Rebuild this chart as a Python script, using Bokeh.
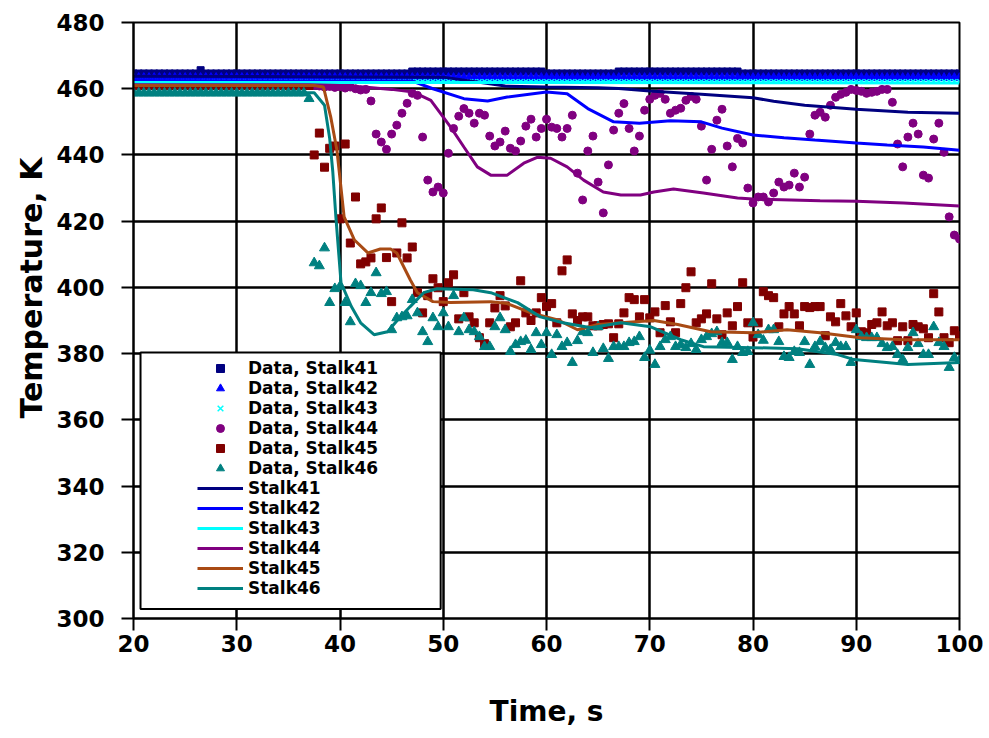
import numpy as np
from bokeh.plotting import figure
from bokeh.models import Legend, LegendItem, BoxAnnotation, FixedTicker, Range1d, Title
from bokeh.embed import file_html
from bokeh.resources import INLINE

# ---------------- data ----------------
x_ticks = [20, 30, 40, 50, 60, 70, 80, 90, 100]
y_ticks = [300, 320, 340, 360, 380, 400, 420, 440, 460, 480]

# measurement sample times (0.5 s)
t_data = np.arange(20.0, 100.25, 0.5)

data41 = [
    464.6, 464.6, 464.6, 464.6, 464.6, 464.6, 464.6, 464.6, 464.6, 464.6,
    464.6, 464.6, 464.6, 465.6, 464.6, 464.6, 464.6, 464.6, 464.6, 464.6,
    464.6, 464.6, 464.6, 464.6, 464.6, 464.6, 464.6, 464.6, 464.6, 464.6,
    464.6, 464.6, 464.6, 464.6, 464.6, 464.6, 464.6, 464.6, 464.6, 464.6,
    464.6, 464.6, 464.6, 464.6, 464.6, 464.6, 464.6, 464.6, 464.6, 464.6,
    464.6, 464.6, 464.6, 464.6, 465.2, 465.2, 465.2, 465.2, 465.2, 465.2,
    465.2, 465.2, 465.2, 465.2, 465.2, 465.2, 465.2, 465.2, 465.2, 465.2,
    465.2, 465.2, 465.2, 465.2, 465.2, 465.2, 465.2, 465.2, 465.2, 465.2,
    464.6, 464.6, 464.6, 464.6, 464.6, 464.6, 464.6, 464.6, 464.6, 464.6,
    464.6, 464.6, 464.6, 464.6, 465.2, 465.2, 465.2, 465.2, 465.2, 465.2,
    465.2, 465.2, 465.2, 465.2, 465.2, 465.2, 465.2, 465.2, 465.2, 465.2,
    465.2, 465.2, 465.2, 465.2, 465.2, 465.2, 465.2, 465.2, 464.6, 464.6,
    464.6, 464.6, 464.6, 464.6, 464.6, 464.6, 464.6, 464.6, 464.6, 464.6,
    464.6, 464.6, 464.6, 464.6, 464.6, 464.6, 464.6, 464.6, 464.6, 464.6,
    464.6, 464.6, 464.6, 464.6, 464.6, 464.6, 464.6, 464.6, 464.6, 464.6,
    464.6, 464.6, 464.6, 464.6, 464.6, 464.6, 464.6, 464.6, 464.6, 464.6,
    464.6,
]

data42 = [
    463.3, 463.3, 463.3, 463.3, 463.3, 463.3, 463.3, 463.3, 463.3, 463.3,
    463.3, 463.3, 463.3, 463.3, 463.3, 463.3, 463.3, 463.3, 463.3, 463.3,
    463.3, 463.3, 463.3, 463.3, 463.3, 463.3, 463.3, 463.3, 463.3, 463.3,
    463.3, 463.3, 463.3, 463.3, 463.3, 463.3, 463.3, 463.3, 463.3, 463.3,
    463.3, 463.3, 463.3, 463.3, 463.3, 463.3, 463.3, 463.3, 463.3, 463.3,
    463.3, 463.3, 463.3, 463.3, 463.3, 463.3, 463.3, 463.3, 463.3, 463.3,
    463.3, 463.3, 463.3, 463.3, 463.3, 463.3, 463.3, 463.3, 463.3, 463.3,
    463.3, 463.3, 463.3, 463.3, 463.3, 463.3, 463.3, 463.3, 463.3, 463.3,
    463.3, 463.3, 463.3, 463.3, 463.3, 463.3, 463.3, 463.3, 463.3, 463.3,
    463.3, 463.3, 463.3, 463.3, 463.3, 463.3, 463.3, 463.3, 463.3, 463.3,
    463.3, 463.3, 463.3, 463.3, 463.3, 463.3, 463.3, 463.3, 463.3, 463.3,
    463.3, 463.3, 463.3, 463.3, 463.3, 463.3, 463.3, 463.3, 463.3, 463.3,
    463.3, 463.3, 463.3, 463.3, 463.3, 463.3, 463.3, 463.3, 463.3, 463.3,
    463.3, 463.3, 463.3, 463.3, 463.3, 463.3, 463.3, 463.3, 463.3, 463.3,
    463.3, 463.3, 463.3, 463.3, 463.3, 463.3, 463.3, 463.3, 463.3, 463.3,
    463.3, 463.3, 463.3, 463.3, 463.3, 463.3, 463.3, 463.3, 463.3, 463.3,
    463.3,
]

data43 = [
    462.2, 462.2, 462.2, 462.2, 462.2, 462.2, 462.2, 462.2, 462.2, 462.2,
    462.2, 462.2, 462.2, 462.2, 462.2, 462.2, 462.2, 462.2, 462.2, 462.2,
    462.2, 462.2, 462.2, 462.2, 462.2, 462.2, 462.2, 462.2, 462.2, 462.2,
    462.2, 462.2, 462.2, 462.2, 462.2, 462.2, 462.2, 462.2, 462.2, 462.2,
    462.2, 462.2, 462.2, 462.2, 462.2, 462.2, 462.2, 462.2, 462.2, 462.2,
    462.2, 462.2, 462.2, 462.2, 462.2, 462.2, 462.2, 462.2, 462.2, 462.2,
    462.2, 462.2, 462.2, 462.2, 462.2, 462.2, 462.2, 462.2, 462.2, 462.2,
    462.2, 462.2, 462.2, 462.2, 462.2, 462.2, 462.2, 462.2, 462.2, 462.2,
    462.2, 462.2, 462.2, 462.2, 462.2, 462.2, 462.2, 462.2, 462.2, 462.2,
    462.2, 462.2, 462.2, 462.2, 462.2, 462.2, 462.2, 462.2, 462.2, 462.2,
    462.2, 462.2, 462.2, 462.2, 462.2, 462.2, 462.2, 462.2, 462.2, 462.2,
    462.2, 462.2, 462.2, 462.2, 462.2, 462.2, 462.2, 462.2, 462.2, 462.2,
    462.2, 462.2, 462.2, 462.2, 462.2, 462.2, 462.2, 462.2, 462.2, 462.2,
    462.2, 462.2, 462.2, 462.2, 462.2, 462.2, 462.2, 462.2, 462.2, 462.2,
    462.2, 462.2, 462.2, 462.2, 462.2, 462.2, 462.2, 462.2, 462.2, 462.2,
    462.2, 462.2, 462.2, 462.2, 462.2, 462.2, 462.2, 462.2, 462.2, 462.2,
    462.2,
]

data44 = [
    461.0, 461.0, 461.0, 461.0, 461.0, 461.0, 461.0, 461.0, 461.0, 461.0,
    461.0, 461.0, 461.0, 461.0, 461.0, 461.0, 461.0, 461.0, 461.0, 461.0,
    461.0, 461.0, 461.0, 461.0, 461.0, 461.0, 461.0, 461.0, 461.0, 461.0,
    461.0, 461.0, 461.0, 461.0, 461.0, 461.0,
    460.8, 460.5, 460.7, 460.4, 460.6, 460.2, 460.5, 460.0, 459.6, 459.8,
    456.3, 446.3, 443.9, 441.7, 446.3, 449.0, 452.6, 455.6, 458.6, 458.0,
    445.4, 432.4, 428.8, 430.3, 428.5, 440.5, 448.0, 451.7, 454.0, 452.6,
    449.6, 452.6, 452.0, 445.7, 442.7, 443.9, 447.2, 442.0, 441.2, 444.2,
    448.7, 450.8, 445.4, 448.0, 450.8, 448.4, 448.0, 445.4, 448.0, 452.0,
    434.5, 426.4, 441.2, 445.7, 431.8, 422.5, 437.0, 447.5, 452.6, 455.5,
    448.0, 441.2, 445.7, 453.5, 456.8, 458.0, 458.6, 456.8, 452.6, 453.5,
    454.1, 456.5, 457.7, 456.8, 448.7, 432.4, 441.7, 450.5, 453.8, 442.7,
    436.4, 445.0, 443.6, 430.0, 425.5, 427.3, 427.3, 425.8, 428.5, 431.8,
    430.3, 430.9, 434.5, 430.3, 433.3, 446.3, 452.0, 452.9, 451.4, 455.0,
    457.4, 458.3, 458.9, 459.8, 459.5, 459.2, 458.6, 458.9, 459.2, 459.8,
    459.8, 455.9, 443.3, 436.4, 445.4, 449.6, 446.3, 433.9, 433.0, 444.8,
    449.6, 440.8, 421.3, 415.8, 414.6,
]

data45 = [
    461.0, 461.0, 461.0, 461.0, 461.0, 461.0, 461.0, 461.0, 461.0, 461.0,
    461.0, 461.0, 461.0, 461.0, 461.0, 461.0, 461.0, 461.0, 461.0, 461.0,
    461.0, 461.0, 461.0, 461.0, 461.0, 461.0, 461.0, 461.0, 461.0, 461.0,
    461.0, 461.0, 461.0, 461.0, 461.0,
    440.0, 446.6, 436.3, 442.0, 442.7, 420.7, 443.3, 413.4, 427.3, 407.1,
    407.7, 408.9, 420.7, 424.0, 409.0, 395.7, 410.4, 419.5, 408.9, 412.2,
    398.4, 392.3, 397.5, 402.6, 399.9, 395.7, 401.4, 403.8, 390.5, 398.4,
    391.1, 389.3, 384.8, 383.0, 389.3, 393.8, 397.5, 394.4, 388.1, 389.3,
    402.0, 392.3, 390.0, 392.3, 396.9, 394.2, 395.1, 389.3, 405.0, 408.3,
    392.0, 390.0, 391.1, 391.1, 388.4, 388.4, 388.8, 389.0, 384.8, 389.0,
    392.3, 396.9, 396.3, 391.1, 396.3, 390.8, 392.6, 386.3, 394.5, 389.6,
    386.3, 395.1, 399.9, 404.7, 389.3, 390.5, 392.0, 401.1, 390.5, 385.7,
    392.3, 388.4, 394.2, 401.4, 389.3, 385.0, 389.3, 398.7, 397.5, 396.9,
    388.1, 392.0, 394.2, 392.0, 388.4, 394.2, 393.9, 394.2, 394.2, 385.4,
    391.1, 389.6, 395.1, 391.4, 388.1, 392.3, 386.6, 386.3, 388.8, 389.3,
    392.6, 388.4, 389.3, 383.9, 388.1, 383.9, 388.8, 388.1, 387.5, 384.8,
    398.1, 392.6, 384.8, 383.3, 386.9, 385.4,
]

data46 = [
    458.7, 458.7, 458.7, 458.7, 458.7, 458.7, 458.7, 458.7, 458.7, 458.7,
    458.7, 458.7, 458.7, 458.7, 458.7, 458.7, 458.7, 458.7, 458.7, 458.7,
    458.7, 458.7, 458.7, 458.7, 458.7, 458.7, 458.7, 458.7, 458.7, 458.7,
    458.7, 458.7, 458.7, 458.7, 457.0,
    407.4, 406.5, 411.9, 395.4, 399.6, 400.3, 395.4, 389.6, 401.1, 400.5,
    395.4, 398.4, 404.4, 398.1, 398.7, 387.2, 390.8, 391.1, 391.4, 396.3,
    392.3, 386.6, 383.6, 390.8, 388.1, 392.3, 388.1, 397.5, 386.6, 390.8,
    387.2, 386.6, 385.1, 382.1, 382.1, 388.1, 390.8, 387.2, 380.6, 382.7,
    383.6, 384.0, 381.2, 386.3, 382.7, 386.3, 379.7, 385.7, 382.1, 383.3,
    377.3, 383.9, 386.6, 386.3, 380.3, 388.1, 381.5, 378.5, 382.1, 382.1,
    382.1, 383.3, 383.6, 385.1, 378.8, 381.0, 376.7, 382.1, 384.2, 385.1,
    382.1, 382.7, 381.8, 383.0, 381.2, 384.2, 385.1, 386.0, 386.6, 383.3,
    383.3, 378.2, 382.1, 380.3, 380.6, 389.3, 385.7, 384.0, 387.2, 387.2,
    383.6, 379.1, 378.8, 380.6, 380.3, 383.6, 376.7, 382.1, 383.6, 381.8,
    381.2, 383.3, 382.1, 382.1, 377.3, 387.2, 385.1, 384.8, 384.8, 384.8,
    383.0, 381.8, 382.1, 379.7, 378.2, 381.8, 386.3, 383.0, 379.7, 379.7,
    388.1, 383.3, 382.1, 375.8, 378.8, 377.9,
]

# model curves
t41 = [20, 50, 56, 60, 65, 67, 70, 75, 80, 82, 85, 90, 95, 100]
m41 = [463.8, 463.5, 460.8, 460.5, 460.3, 460.1, 459.3, 458.3, 457.3, 456.2, 455.0, 453.8, 452.9, 452.6]

t42 = [20, 47, 49, 52, 54.3, 56.2, 60, 62, 64, 66.5, 69, 72, 75, 77, 80, 83, 86, 90, 93, 96.5, 100]
m42 = [462.5, 462.3, 460.0, 457.0, 456.3, 457.5, 459.0, 458.5, 454.0, 450.0, 449.6, 450.3, 450.0,
       448.1, 446.0, 445.2, 444.5, 443.6, 443.0, 442.4, 441.4]

t43 = [20, 50, 80, 100]
m43 = [461.9, 461.9, 461.8, 461.7]

t44 = [20, 37, 40, 42.3, 45, 47.1, 48.8, 50.7, 52, 53.3, 54.6, 56.2, 57.8, 59.1, 60.4, 62, 63.6,
       65.5, 67.2, 69.1, 70.4, 72.3, 75.2, 78.5, 80, 86.5, 90, 94.6, 100]
m44 = [461.2, 461.2, 461.0, 460.5, 459.8, 459.0, 456.5, 448.5, 442.4, 436.4, 433.9, 433.9, 437.5,
       439.3, 439.0, 436.4, 432.4, 428.8, 427.9, 427.9, 428.8, 429.7, 428.5, 427.0, 426.7, 426.2,
       426.0, 425.5, 424.6]

t45 = [20, 37.5, 38.4, 39.1, 39.7, 40.4, 41.4, 42.7, 43.9, 44.9, 45.5, 46.8, 47.5, 49, 50.7, 54.6,
       56.2, 58.5, 61.1, 63, 65, 67.2, 70.4, 72.7, 75.9, 80, 83.3, 86.5, 90.4, 94.6, 100]
m45 = [461.0, 461.0, 460.5, 451.5, 441.5, 421.3, 414.3, 410.4, 411.6, 411.6, 410.4, 402.3, 398.4,
       395.7, 395.4, 395.7, 395.1, 392.3, 390.2, 387.2, 388.8, 389.3, 390.0, 388.8, 386.6, 386.3,
       387.2, 386.3, 384.8, 384.2, 384.2]

t46 = [20, 37.5, 38.5, 39.0, 39.3, 39.6, 40.1, 41.1, 42, 43.3, 44.6, 45.6, 46.8, 48.1, 49.4, 52.9,
       54.6, 57.2, 59.4, 61.6, 64.3, 67.2, 70.1, 73, 75.2, 80, 84.3, 88.2, 89.8, 95, 100]
m46 = [458.8, 458.8, 455.0, 445.0, 435.0, 421.3, 401.4, 394.2, 389.3, 385.7, 386.6, 390.2, 394.2,
       398.4, 399.6, 399.3, 398.4, 395.4, 391.1, 389.3, 387.8, 389.3, 388.1, 384.2, 382.1, 381.8,
       381.5, 379.7, 378.2, 376.7, 377.3]

# ---------------- figure ----------------
FONT = "DejaVu Sans"

p = figure(width=983, height=730, x_range=Range1d(20, 100), y_range=Range1d(300, 480),
           output_backend="svg", toolbar_location=None,
           min_border_left=133, min_border_right=24, min_border_top=22, min_border_bottom=110)
p.background_fill_color = "white"
p.border_fill_color = "white"
p.outline_line_color = "black"
p.outline_line_width = 2

p.xaxis.ticker = FixedTicker(ticks=x_ticks)
p.yaxis.ticker = FixedTicker(ticks=y_ticks)
for ax in (p.xaxis[0], p.yaxis[0]):
    ax.axis_line_color = "black"
    ax.axis_line_width = 2
    ax.major_tick_line_color = "black"
    ax.major_tick_line_width = 2
    ax.major_tick_out = 12
    ax.major_tick_in = 0
    ax.minor_tick_line_color = None
    ax.major_label_text_font = FONT
    ax.major_label_text_font_style = "bold"
    ax.major_label_text_font_size = "23px"
    ax.major_label_text_color = "black"
    ax.axis_label_text_font = FONT
    ax.axis_label_text_font_style = "bold"
    ax.axis_label_text_font_size = "28px"
    ax.axis_label_text_color = "black"
p.xaxis.axis_label = "Time, s"
p.xaxis.major_label_standoff = 4
p.yaxis.major_label_standoff = 17
p.xaxis.axis_label_standoff = 40

# y axis title in the left panel, shifted upward as in the original
ytitle = Title(text="Temperature, K", align="left", offset=200,
               text_font=FONT, text_font_style="bold", text_font_size="30px",
               text_color="black", standoff=10)
p.add_layout(ytitle, "left")

for g in (p.xgrid[0], p.ygrid[0]):
    g.grid_line_color = "black"
    g.grid_line_width = 2.5
    g.grid_line_alpha = 1.0

c41, c42, c43 = "#000080", "#0000FF", "#00FFFF"
c44, c45, c46 = "#800080", "#800000", "#008080"
c45line = "#A84A14"

r_d41 = p.scatter(t_data, data41, marker="square", size=7, color=c41)
r_d42 = p.scatter(t_data, data42, marker="triangle", size=9, color=c42)
r_d43 = p.scatter(t_data, data43, marker="x", size=6, line_width=1.5, color=c43)
r_d44 = p.scatter(t_data, data44, marker="circle", size=8, color=c44)
r_d45 = p.scatter(t_data, data45, marker="square", size=8, color=c45)
r_d46 = p.scatter(t_data, data46, marker="triangle", size=10, color=c46)

r_m41 = p.line(t41, m41, line_color=c41, line_width=3)
r_m42 = p.line(t42, m42, line_color=c42, line_width=3)
r_m43 = p.line(t43, m43, line_color=c43, line_width=3)
r_m44 = p.line(t44, m44, line_color=c44, line_width=3)
r_m45 = p.line(t45, m45, line_color=c45line, line_width=3)
r_m46 = p.line(t46, m46, line_color=c46, line_width=3)

# legend frame (positioned in data space of the plot frame)
box = BoxAnnotation(left=20.68, right=49.75, top=380.3, bottom=302.9,
                    fill_color="white", fill_alpha=1.0,
                    line_color="black", line_width=2, line_alpha=1.0)
p.add_layout(box)

items = [
    LegendItem(label="Data, Stalk41", renderers=[r_d41]),
    LegendItem(label="Data, Stalk42", renderers=[r_d42]),
    LegendItem(label="Data, Stalk43", renderers=[r_d43]),
    LegendItem(label="Data, Stalk44", renderers=[r_d44]),
    LegendItem(label="Data, Stalk45", renderers=[r_d45]),
    LegendItem(label="Data, Stalk46", renderers=[r_d46]),
    LegendItem(label="Stalk41", renderers=[r_m41]),
    LegendItem(label="Stalk42", renderers=[r_m42]),
    LegendItem(label="Stalk43", renderers=[r_m43]),
    LegendItem(label="Stalk44", renderers=[r_m44]),
    LegendItem(label="Stalk45", renderers=[r_m45]),
    LegendItem(label="Stalk46", renderers=[r_m46]),
]
legend = Legend(items=items, location=(64, 20), padding=0, margin=0, spacing=0,
                glyph_width=46, glyph_height=20, label_height=20, label_standoff=5,
                label_text_font=FONT, label_text_font_style="bold",
                label_text_font_size="17px", label_text_color="black",
                background_fill_alpha=0.0, border_line_alpha=0.0)
p.add_layout(legend)

open("out.html", "w").write(file_html(p, INLINE))
